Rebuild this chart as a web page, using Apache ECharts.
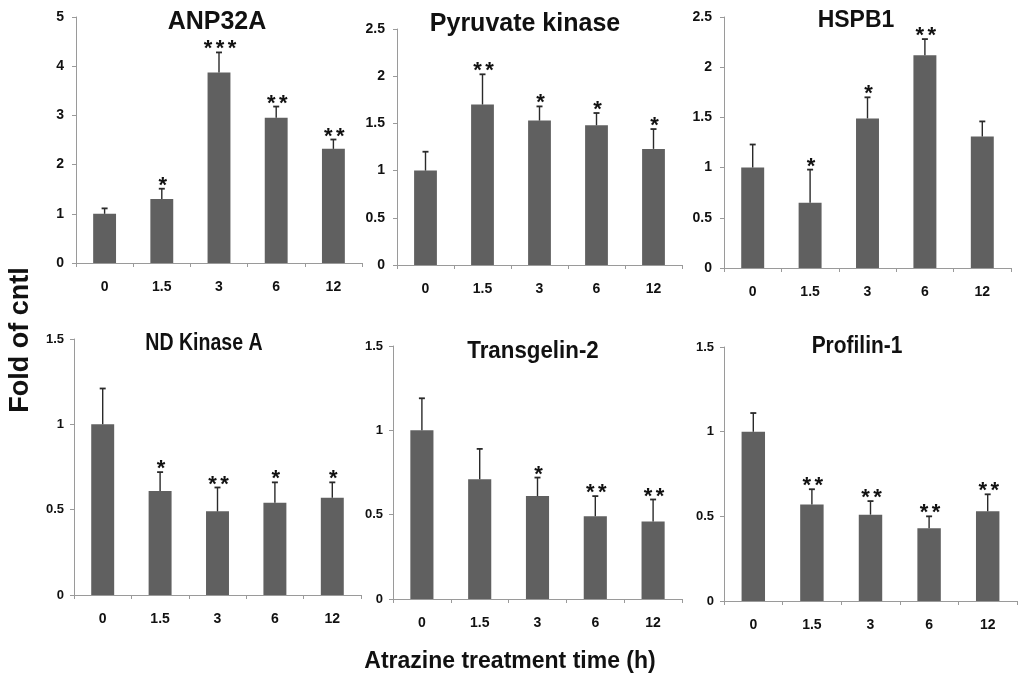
<!DOCTYPE html>
<html><head><meta charset="utf-8">
<script src="https://cdn.jsdelivr.net/npm/echarts@6/dist/echarts.min.js"></script>
<style>html,body{margin:0;padding:0;background:#fff}#c{width:1024px;height:680px}</style>
</head><body><div id="c"></div>
<script>
var categories = ['0', '1.5', '3', '6', '12'];
var titles = ['ANP32A', 'Pyruvate kinase', 'HSPB1', 'ND Kinase A', 'Transgelin-2', 'Profilin-1'];
var yMax = [5, 2.5, 2.5, 1.5, 1.5, 1.5];
var yStep = [1, 0.5, 0.5, 0.5, 0.5, 0.5];
var meanANP32A = [1.0, 1.30, 3.87, 2.95, 2.32];
var errANP32A = [1.11, 1.51, 4.28, 3.18, 2.51];
var starANP32A = ['', '*', '***', '**', '**'];
var meanPK = [1.0, 1.70, 1.53, 1.48, 1.23];
var errPK = [1.20, 2.02, 1.68, 1.61, 1.44];
var starPK = ['', '**', '*', '*', '*'];
var meanHSPB1 = [1.0, 0.65, 1.49, 2.12, 1.31];
var errHSPB1 = [1.23, 0.98, 1.70, 2.28, 1.46];
var starHSPB1 = ['', '*', '*', '**', ''];
var meanNDK = [1.0, 0.61, 0.49, 0.54, 0.57];
var errNDK = [1.21, 0.72, 0.63, 0.66, 0.66];
var starNDK = ['', '*', '**', '*', '*'];
var meanTAGLN2 = [1.0, 0.71, 0.61, 0.49, 0.46];
var errTAGLN2 = [1.19, 0.89, 0.72, 0.61, 0.59];
var starTAGLN2 = ['', '', '*', '**', '**'];
var meanPFN1 = [1.0, 0.57, 0.51, 0.43, 0.53];
var errPFN1 = [1.11, 0.66, 0.59, 0.50, 0.63];
var starPFN1 = ['', '**', '**', '**', '**'];

var means = [meanANP32A, meanPK, meanHSPB1, meanNDK, meanTAGLN2, meanPFN1];
var errs = [errANP32A, errPK, errHSPB1, errNDK, errTAGLN2, errPFN1];
var stars = [starANP32A, starPK, starHSPB1, starNDK, starTAGLN2, starPFN1];

var grids = [
  {left: 76, top: 17, width: 286, height: 246},
  {left: 397, top: 29, width: 285, height: 236},
  {left: 724, top: 17, width: 287, height: 251},
  {left: 74, top: 339, width: 287, height: 256},
  {left: 393, top: 346, width: 289, height: 253},
  {left: 724, top: 347, width: 293, height: 254}
];
var titleStyle = [
  {x: 217, y: 22, size: 25, sx: 1},
  {x: 525, y: 24, size: 25, sx: 1},
  {x: 856, y: 21, size: 23, sx: 1},
  {x: 204, y: 344, size: 23, sx: 0.85},
  {x: 533, y: 351, size: 24, sx: 0.93},
  {x: 857, y: 347, size: 23, sx: 0.91}
];
var ARIAL = 'Arial, "Liberation Sans", sans-serif';

var xAxes = [], yAxes = [], series = [], graphics = [];
for (var i = 0; i < 6; i++) {
  var bottom = i >= 3;
  xAxes.push({
    type: 'category', gridIndex: i, data: categories,
    axisLine: {lineStyle: {color: '#9a9a9a', width: 1}},
    axisTick: {show: true, length: 4, alignWithLabel: false, lineStyle: {color: '#9a9a9a'}},
    axisLabel: {color: '#111', fontWeight: 'bold', fontSize: 14, fontFamily: ARIAL, margin: 17}
  });
  yAxes.push({
    type: 'value', gridIndex: i, min: 0, max: yMax[i], interval: yStep[i],
    splitLine: {show: false},
    axisLine: {show: true, lineStyle: {color: '#9a9a9a', width: 1}},
    axisTick: {show: true, length: 4, lineStyle: {color: '#9a9a9a'}},
    axisLabel: {color: '#111', fontWeight: 'bold', fontSize: bottom ? 13 : 14, fontFamily: ARIAL, margin: bottom ? 10 : 12}
  });
  series.push({
    type: 'bar', xAxisIndex: i, yAxisIndex: i, data: means[i], barWidth: '40%',
    itemStyle: {color: '#606060'}, silent: true, animation: false
  });
  var cdata = [];
  for (var k = 0; k < 5; k++) cdata.push([k, means[i][k], errs[i][k], stars[i][k].length]);
  series.push({
    type: 'custom', xAxisIndex: i, yAxisIndex: i, data: cdata, z: 5, animation: false, silent: true,
    renderItem: function (params, api) {
      var x = api.value(0);
      var p0 = api.coord([x, api.value(1)]);
      var p1 = api.coord([x, api.value(2)]);
      var n = api.value(3);
      var children = [
        {type: 'line', shape: {x1: p0[0], y1: p0[1], x2: p1[0], y2: p1[1]}, style: {stroke: '#2a2a2a', lineWidth: 1.4}},
        {type: 'line', shape: {x1: p1[0] - 3, y1: p1[1], x2: p1[0] + 3, y2: p1[1]}, style: {stroke: '#2a2a2a', lineWidth: 1.8}}
      ];
      var pitch = 12;
      for (var s = 0; s < n; s++) {
        var cx = p1[0] + 1 + (s - (n - 1) / 2) * pitch;
        children.push({type: 'text', style: {text: '*', x: cx, y: p1[1] - 3, textAlign: 'center', textVerticalAlign: 'middle', font: 'bold 22px ' + ARIAL, fill: '#111'}});
      }
      return {type: 'group', children: children};
    }
  });
  var ts = titleStyle[i];
  graphics.push({
    type: 'text', x: ts.x, y: ts.y, scaleX: ts.sx,
    style: {text: titles[i], textAlign: 'center', textVerticalAlign: 'middle',
      font: 'bold ' + ts.size + 'px ' + ARIAL, fill: '#111'}
  });
}
graphics.push({type: 'text', x: 21, y: 340, rotation: Math.PI / 2,
  style: {text: 'Fold of cntl', textAlign: 'center', textVerticalAlign: 'middle', font: 'bold 27px ' + ARIAL, fill: '#111'}});
graphics.push({type: 'text', x: 510, y: 662,
  style: {text: 'Atrazine treatment time (h)', textAlign: 'center', textVerticalAlign: 'middle', font: 'bold 23px ' + ARIAL, fill: '#111'}});

var chart = echarts.init(document.getElementById('c'));
chart.setOption({
  animation: false,
  grid: grids,
  xAxis: xAxes,
  yAxis: yAxes,
  series: series,
  graphic: graphics
});
</script></body></html>
